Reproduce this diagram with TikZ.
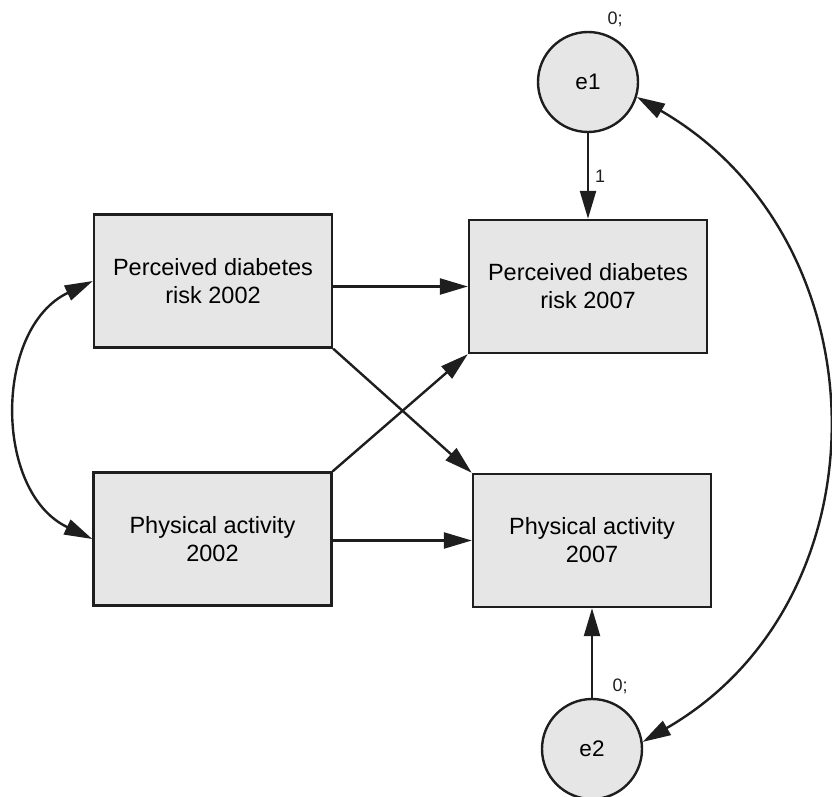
\documentclass[tikz,border=0pt]{standalone}
\usepackage{fontspec}
\setmainfont{Liberation Sans}
\usetikzlibrary{arrows.meta}
\definecolor{boxfill}{HTML}{E6E6E6}
\definecolor{ink}{HTML}{1E1E1E}
\begin{document}
\begin{tikzpicture}[x=1pt,y=-1pt,
  var/.style={draw=ink,line width=2.4pt,fill=boxfill,rectangle,minimum width=238pt,minimum height=133pt,align=center,inner sep=0pt,font=\fontsize{23.5}{28}\selectfont},
  err/.style={draw=ink,line width=2.4pt,fill=boxfill,circle,minimum size=100pt,inner sep=0pt,font=\fontsize{22.5}{27}\selectfont},
  conn/.style={draw=ink,line width=2.4pt,-{Triangle[length=28pt,width=16pt]}},
  biconn/.style={draw=ink,line width=2.4pt,{Triangle[length=28pt,width=16pt]}-{Triangle[length=28pt,width=16pt]}},
  lbl/.style={font=\fontsize{18}{21}\selectfont,text=ink,inner sep=0pt}]
\useasboundingbox (0,0) rectangle (832,797);
\node[var] (pdr02) at (213,281) {Perceived diabetes\\risk 2002};
\node[var] (pa02) at (212.5,539) {Physical activity\\2002};
\node[var] (pdr07) at (588,286.5) {Perceived diabetes\\risk 2007};
\node[var] (pa07) at (592,540.5) {Physical activity\\2007};
\node[err] (e1) at (588,82) {e1};
\node[err] (e2) at (592,749) {e2};
\node[lbl] (v1) at (615,19) {0;};
\node[lbl] (v2) at (620,686) {0;};
\draw[conn] (e1.south) -- node[lbl,right=6pt] {1} (pdr07.north);
\draw[conn] (e2.north) -- (pa07.south);
\draw[conn] (pdr02.east |- pdr07.west) -- (pdr07.west);
\draw[conn] (pa02.east |- pa07.west) -- (pa07.west);
\draw[conn] (pdr02.south east) -- (pa07.north west);
\draw[conn] (pa02.north east) -- (pdr07.south west);
\draw[biconn] (pdr02.west) .. controls +(-99,47) and +(-99,-47) .. (pa02.west);
\draw[biconn] (e1.-17) .. controls +(248,143) and +(248,-143) .. (e2.8);
\end{tikzpicture}
\end{document}
